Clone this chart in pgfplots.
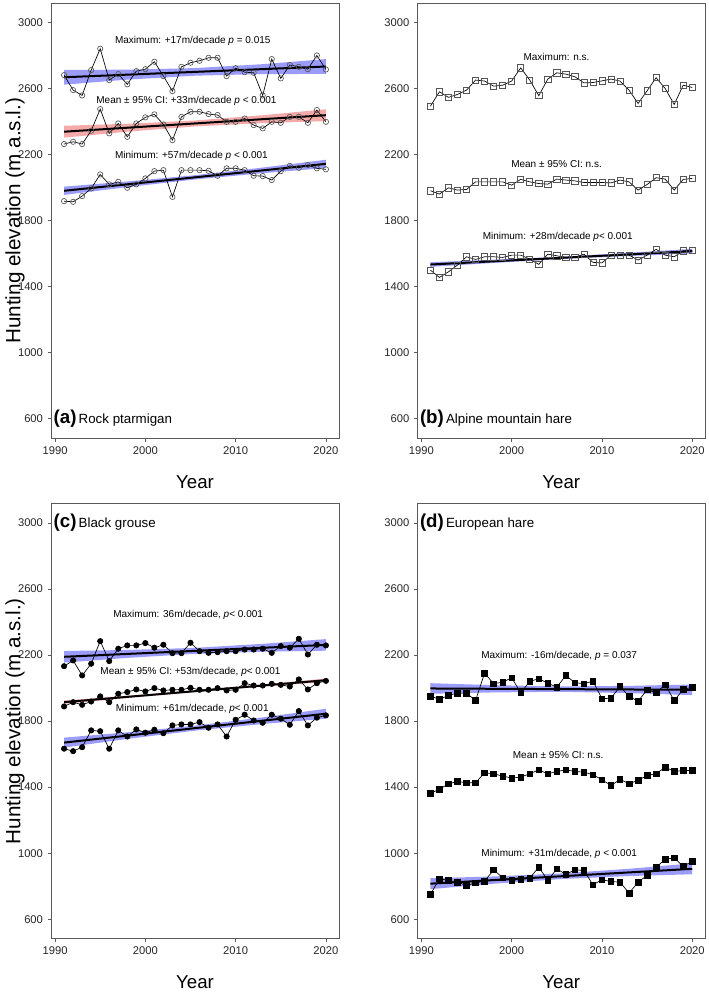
\documentclass[border=0pt]{standalone}
\usepackage{fontspec}
\setmainfont{Liberation Sans}
\usepackage{pgfplots}
\usepackage{pgfplotstable}
\pgfplotsset{compat=1.18}

\definecolor{bandblue}{RGB}{155,155,250}
\definecolor{bandred}{RGB}{245,170,170}
\definecolor{mkgray}{RGB}{85,85,85}
\definecolor{framegray}{RGB}{90,90,90}

% year, maximum, mean, minimum hunting elevation
\pgfplotstableread{
year max mean min
1991 2683 2265 1919
1992 2592 2279 1915
1993 2560 2265 1950
1994 2713 2346 1996
1995 2843 2477 2081
1996 2653 2330 2021
1997 2689 2390 2036
1998 2627 2309 2000
1999 2707 2390 2021
2000 2719 2427 2057
2001 2764 2445 2101
2002 2677 2384 2107
2003 2586 2289 1945
2004 2733 2430 2107
2005 2758 2461 2107
2006 2770 2461 2107
2007 2788 2447 2103
2008 2788 2441 2073
2009 2677 2400 2118
2010 2725 2400 2118
2011 2701 2420 2107
2012 2697 2380 2073
2013 2560 2360 2071
2014 2780 2400 2047
2015 2663 2394 2101
2016 2744 2430 2133
2017 2733 2430 2121
2018 2719 2394 2138
2019 2802 2471 2118
2020 2717 2400 2112
}\tblA

\pgfplotstableread{
year max mean min
1991 2495 1982 1501
1992 2582 1962 1457
1993 2548 2000 1491
1994 2566 1986 1532
1995 2592 1990 1582
1996 2653 2036 1566
1997 2647 2036 1582
1998 2616 2036 1582
1999 2622 2036 1578
2000 2647 2016 1592
2001 2727 2051 1592
2002 2653 2036 1568
2003 2558 2026 1536
2004 2659 2022 1598
2005 2697 2053 1588
2006 2689 2047 1578
2007 2673 2042 1578
2008 2636 2032 1598
2009 2638 2032 1548
2010 2648 2032 1545
2011 2659 2030 1592
2012 2647 2047 1592
2013 2592 2036 1592
2014 2511 1986 1562
2015 2588 2020 1592
2016 2667 2061 1627
2017 2602 2053 1592
2018 2505 1986 1582
2019 2622 2051 1618
2020 2608 2057 1622
}\tblB

\pgfplotstableread{
year max mean min
1991 2133 1889 1633
1992 2168 1915 1618
1993 2077 1899 1642
1994 2148 1919 1744
1995 2285 1950 1739
1996 2164 1915 1633
1997 2239 1966 1744
1998 2259 1976 1707
1999 2259 1992 1750
2000 2273 1980 1730
2001 2245 2000 1748
2002 2263 1986 1727
2003 2212 1990 1774
2004 2212 1990 1780
2005 2275 2002 1780
2006 2224 1990 1794
2007 2214 1990 1760
2008 2218 2000 1780
2009 2224 1986 1707
2010 2224 1990 1808
2011 2234 2030 1839
2012 2234 2016 1804
2013 2239 2016 1790
2014 2214 2026 1839
2015 2255 2020 1815
2016 2245 2010 1778
2017 2299 2053 1861
2018 2204 1992 1774
2019 2263 2030 1821
2020 2259 2044 1835
}\tblC

\pgfplotstableread{
year max mean min
1991 1952 1364 750
1992 1932 1386 845
1993 1956 1421 835
1994 1970 1434 824
1995 1970 1427 804
1996 1925 1427 820
1997 2091 1487 830
1998 2027 1481 899
1999 2036 1467 851
2000 2063 1455 835
2001 1972 1461 841
2002 2041 1481 849
2003 2057 1505 915
2004 2030 1481 835
2005 2006 1495 905
2006 2077 1505 871
2007 2033 1495 899
2008 2027 1491 895
2009 2042 1475 808
2010 1936 1445 839
2011 1939 1410 828
2012 2010 1447 824
2013 1950 1421 758
2014 1921 1441 824
2015 1990 1471 865
2016 1972 1481 915
2017 2021 1521 962
2018 1925 1495 972
2019 1992 1501 919
2020 2006 1501 952
}\tblD

\pgfplotsset{
  panel/.style={
    scale only axis, width=216pt, height=326.7pt,
    anchor=north west,
    xmin=1989.55, xmax=2021.45, ymin=480, ymax=3120,
    xtick={1990,2000,2010,2020}, ytick={600,1000,...,3000},
    axis line style={draw=framegray, line width=0.7pt},
    tick align=outside, xtick pos=left, ytick pos=left,
    major tick length=2.5pt, tick style={framegray, line width=0.6pt},
    tick label style={font=\fontsize{8.4}{9}\selectfont, text=black!85},
    /pgf/number format/assume math mode=true,
    /pgf/number format/1000 sep={},
    scaled ticks=false,
    xlabel={Year},
    xlabel style={font=\fontsize{14}{15}\selectfont, at={(axis description cs:0.5,-0.099)}, anchor=center},
    ylabel style={font=\fontsize{15.5}{17}\selectfont, at={(axis description cs:-0.125,0.5)}, anchor=center},
    clip=false,
  },
  band/.style={draw=none, fill=bandblue, forget plot},
  bandr/.style={draw=none, fill=bandred, forget plot},
  trend/.style={black, line width=1.5pt, forget plot},
  series/.style={black, line width=0.5pt},
}
\tikzset{
  note/.style={font=\fontsize{7.5}{9}\selectfont, inner sep=0pt},
  tag/.style={anchor=west, inner sep=0pt, xshift=1.8pt},
}
\newcommand{\tagtext}[2]{{\fontsize{14}{16}\selectfont\bfseries (#1)}\,{\fontsize{10}{12}\selectfont #2}}

\begin{document}
\begin{tikzpicture}
\useasboundingbox (0,0) rectangle (531.75pt,-744pt);

% (a) Rock ptarmigan
\begin{axis}[panel, at={(38.25pt,-2.25pt)}, ylabel={Hunting elevation (m a.s.l.)}]
\addplot[band] coordinates {(1991,2715) (1998,2715.7) (2005.5,2725.5) (2013,2749.3) (2020,2780)
  (2020,2690) (2013,2689.3) (2005.5,2679.5) (1998,2655.7) (1991,2625)} -- cycle;
\addplot[bandr] coordinates {(1991,2376) (1998,2388.1) (2005.5,2408) (2013,2439.9) (2020,2476)
  (2020,2404) (2013,2391.9) (2005.5,2372) (1998,2340.1) (1991,2304)} -- cycle;
\addplot[band] coordinates {(1991,2007) (1998,2038.3) (2005.5,2076.5) (2013,2122.7) (2020,2170)
  (2020,2120) (2013,2088.7) (2005.5,2050.5) (1998,2004.3) (1991,1957)} -- cycle;
\addplot[series, mark=o, mark size=2pt, mark options={mkgray, line width=0.5pt}] table[x=year, y=max] {\tblA};
\addplot[series, mark=o, mark size=2pt, mark options={mkgray, line width=0.5pt}] table[x=year, y=mean] {\tblA};
\addplot[series, mark=o, mark size=2pt, mark options={mkgray, line width=0.5pt}] table[x=year, y=min] {\tblA};
\addplot[trend] coordinates {(1991,2670) (2020,2735)};
\addplot[trend] coordinates {(1991,2340) (2020,2440)};
\addplot[trend] coordinates {(1991,1982) (2020,2145)};
\node[note] at (axis cs:2005.25,2891) {Maximum: +17m/decade \textit{p} = 0.015};
\node[note] at (axis cs:2004.55,2527) {Mean ± 95\% CI: +33m/decade \textit{p} < 0.001};
\node[note] at (axis cs:2005.1,2194) {Minimum: +57m/decade \textit{p} < 0.001};
\node[tag] at (axis cs:1989.55,600) {\tagtext{a}{Rock ptarmigan}};
\end{axis}

% (b) Alpine mountain hare
\begin{axis}[panel, at={(313pt,-2.25pt)}]
\addplot[band] coordinates {(1991,1549) (1998,1564.6) (2005.5,1582.5) (2013,1606.4) (2020,1630)
  (2020,1602) (2013,1586.4) (2005.5,1568.5) (1998,1544.6) (1991,1521)} -- cycle;
\addplot[series, mark=square, mark size=2.3pt, mark options={mkgray, line width=0.5pt}] table[x=year, y=max] {\tblB};
\addplot[series, mark=square, mark size=2.3pt, mark options={mkgray, line width=0.5pt}] table[x=year, y=mean] {\tblB};
\addplot[series, mark=square, mark size=2.3pt, mark options={mkgray, line width=0.5pt}] table[x=year, y=min] {\tblB};
\addplot[trend] coordinates {(1991,1535) (2020,1616)};
\node[note] at (axis cs:2004.97,2794) {Maximum: n.s.};
\node[note] at (axis cs:2004.97,2144) {Mean ± 95\% CI: n.s.};
\node[note] at (axis cs:2005.1,1703) {Minimum: +28m/decade \textit{p}< 0.001};
\node[tag] at (axis cs:1989.55,600) {\tagtext{b}{Alpine mountain hare}};
\end{axis}

% (c) Black grouse
\begin{axis}[panel, at={(38.25pt,-377.5pt)}, ylabel={Hunting elevation (m a.s.l.)}]
\addplot[band] coordinates {(1991,2225) (1998,2231.4) (2005.5,2244) (2013,2268.6) (2020,2297)
  (2020,2227) (2013,2220.6) (2005.5,2208) (1998,2183.4) (1991,2155)} -- cycle;
\addplot[bandr] coordinates {(1991,1925) (1998,1954.1) (2005.5,1986.5) (2013,2022.9) (2020,2058)
  (2020,2038) (2013,2008.9) (2005.5,1976.5) (1998,1940.1) (1991,1905)} -- cycle;
\addplot[band] coordinates {(1991,1700) (1998,1732.2) (2005.5,1772.5) (2013,1822.8) (2020,1875)
  (2020,1815) (2013,1782.8) (2005.5,1742.5) (1998,1692.2) (1991,1640)} -- cycle;
\addplot[series, mark=*, mark size=2pt, mark options={black}] table[x=year, y=max] {\tblC};
\addplot[series, mark=*, mark size=2pt, mark options={black}] table[x=year, y=mean] {\tblC};
\addplot[series, mark=*, mark size=2pt, mark options={black}] table[x=year, y=min] {\tblC};
\addplot[trend] coordinates {(1991,2190) (2020,2262)};
\addplot[trend] coordinates {(1991,1915) (2020,2048)};
\addplot[trend] coordinates {(1991,1670) (2020,1845)};
\node[note] at (axis cs:2004.74,2445) {Maximum: 36m/decade, \textit{p}< 0.001};
\node[note] at (axis cs:2005.0,2097) {Mean ± 95\% CI: +53m/decade, \textit{p}< 0.001};
\node[note] at (axis cs:2005.2,1875) {Minimum: +61m/decade, \textit{p}< 0.001};
\node[tag] at (axis cs:1989.55,3000) {\tagtext{c}{Black grouse}};
\end{axis}

% (d) European hare
\begin{axis}[panel, at={(313pt,-377.5pt)}]
\addplot[band] coordinates {(1991,2030) (1998,2018.1) (2005.5,2010) (2013,2013.9) (2020,2022)
  (2020,1958) (2013,1969.9) (2005.5,1978) (1998,1974.1) (1991,1966)} -- cycle;
\addplot[band] coordinates {(1991,848) (1998,858.7) (2005.5,877) (2013,905.3) (2020,938)
  (2020,872) (2013,861.3) (2005.5,843) (1998,814.7) (1991,782)} -- cycle;
\addplot[series, mark=square*, mark size=2.1pt, mark options={black}] table[x=year, y=max] {\tblD};
\addplot[series, mark=square*, mark size=2.1pt, mark options={black}] table[x=year, y=mean] {\tblD};
\addplot[series, mark=square*, mark size=2.1pt, mark options={black}] table[x=year, y=min] {\tblD};
\addplot[trend] coordinates {(1991,1998) (2020,1990)};
\addplot[trend] coordinates {(1991,815) (2020,905)};
\node[note] at (axis cs:2005.26,2194) {Maximum: -16m/decade, \textit{p} = 0.037};
\node[note] at (axis cs:2005.15,1592) {Mean ± 95\% CI: n.s.};
\node[note] at (axis cs:2005.26,996) {Minimum: +31m/decade, \textit{p} < 0.001};
\node[tag] at (axis cs:1989.55,3000) {\tagtext{d}{European hare}};
\end{axis}
\end{tikzpicture}
\end{document}
